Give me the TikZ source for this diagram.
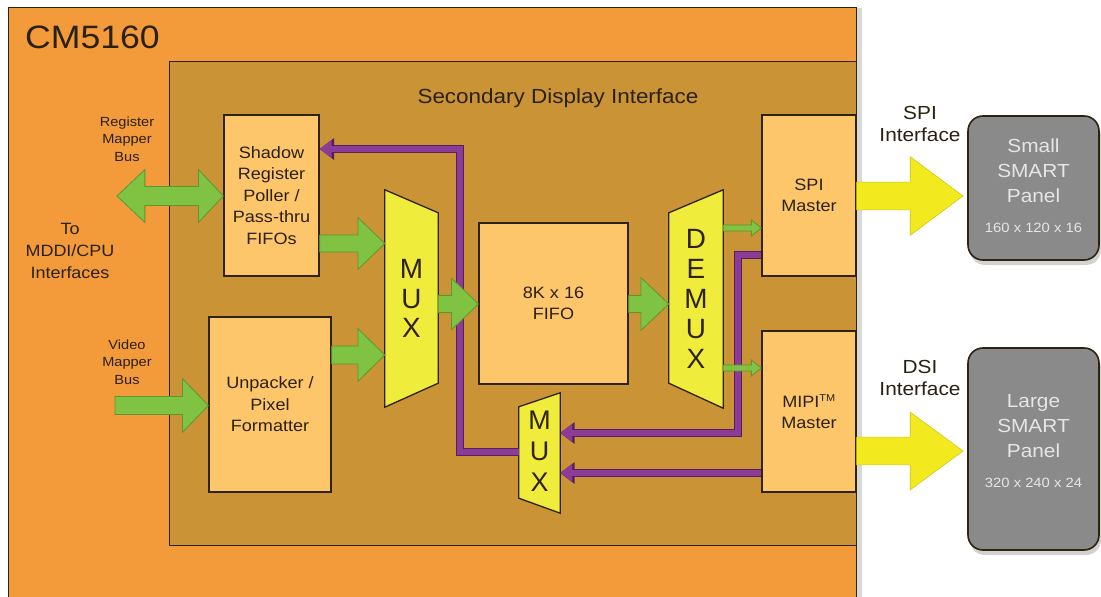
\documentclass[tikz,border=0pt]{standalone}
\usepackage{fontspec}
\setmainfont[FakeStretch=1.1]{Liberation Sans}
\newfontfamily\plainsans{Liberation Sans}
\usetikzlibrary{arrows.meta,calc,shadows}
\definecolor{orangeC}{HTML}{F39A3B}
\definecolor{innerC}{HTML}{C99336}
\definecolor{boxC}{HTML}{FEC66B}
\definecolor{edgeC}{HTML}{2E2210}
\definecolor{txtC}{HTML}{2B2112}
\definecolor{muxC}{HTML}{F0EC3C}
\definecolor{greenC}{HTML}{80C343}
\definecolor{greenD}{HTML}{5E962F}
\definecolor{purC}{HTML}{8C3B96}
\definecolor{purD}{HTML}{55205E}
\definecolor{yelC}{HTML}{F2EA1E}
\definecolor{yelD}{HTML}{D2C81A}
\definecolor{panelC}{HTML}{8A8A8A}
\definecolor{panelT}{HTML}{E6E6E6}
\newcommand{\blockarr}[6]{\draw[#1] let \p1=(#2), \p2=(#3) in
  (\x1,{\y1+#4}) -- ({\x2-#6},{\y1+#4}) -- ({\x2-#6},{\y1+#5}) -- (\x2,\y1)
  -- ({\x2-#6},{\y1-#5}) -- ({\x2-#6},{\y1-#4}) -- (\x1,{\y1-#4}) -- cycle;}
\begin{document}
\begin{tikzpicture}[x=1bp,y=-1bp,
  box/.style={draw=edgeC, line width=1.3bp, fill=boxC, inner sep=0pt, text=txtC,
    align=center, font=\fontsize{16.5}{21.5}\selectfont},
  muxshape/.style={draw=edgeC, line width=1.3bp, fill=muxC, line join=miter},
  muxtxt/.style={text=edgeC, align=center, inner sep=0pt, font=\plainsans\fontsize{28}{30}\selectfont},
  lbl/.style={text=txtC, align=center, inner sep=0pt},
  garr/.style={fill=greenC, draw=greenD, line width=0.8bp},
  yarr/.style={fill=yelC, draw=yelD, line width=0.6bp},
  panel/.style={draw=edgeC, line width=1.6bp, fill=panelC, rounded corners=15bp,
    inner sep=0pt, drop shadow={shadow xshift=2bp, shadow yshift=-5bp, opacity=0.35}},
  pline/.style={draw=purC, line width=5.5bp, -{Triangle[length=12bp,width=17bp]},
    preaction={draw=purD, line width=8bp, -{Triangle[length=14.5bp,width=21bp]}}}
]
\useasboundingbox (0,0) rectangle (1101,597);
\fill[white] (0,0) rectangle (1101,597);

% chip and inner block
\node (chip) [draw=edgeC, line width=1.3bp, fill=orangeC, minimum width=848bp, minimum height=600bp,
  anchor=north west, inner sep=0pt,
  drop shadow={shadow xshift=5bp, shadow yshift=0bp, opacity=0.3}] at (8,7) {};
\node (title) [anchor=west, text=txtC, inner sep=0pt, font=\fontsize{32.5}{38}\selectfont] at (25,37) {CM5160};
\node (sdi) [draw=edgeC, line width=1.3bp, fill=innerC, minimum width=687bp, minimum height=484bp,
  anchor=north west, inner sep=0pt] at (169,61) {};
\node (sdilbl) [lbl, font=\fontsize{20.5}{24}\selectfont] at (558,98) {Secondary Display Interface};

% boxes
\node (shadow) [box, minimum width=95bp, minimum height=161bp] at (271.5,195.5)
  {Shadow\\Register\\Poller /\\Pass-thru\\FIFOs};
\node (unpack) [box, minimum width=122bp, minimum height=175bp] at (270,404.5)
  {Unpacker /\\Pixel\\Formatter};
\node (fifo) [box, minimum width=149bp, minimum height=161bp] at (553.5,303.5)
  {8K x 16\\FIFO};
\node (spi) [box, minimum width=94bp, minimum height=161bp] at (809,195.5)
  {SPI\\Master};
\node (mipi) [box, minimum width=94bp, minimum height=161bp] at (809,411.5)
  {MIPI\textsuperscript{\fontsize{10}{10}\selectfont TM}\\Master};

% multiplexers
\path node (mux1) [minimum width=53bp, minimum height=217bp, inner sep=0pt] at (411.5,298.5) {};
\draw[muxshape] (mux1.north west) -- ($(mux1.north east)+(0,23)$) -- ($(mux1.south east)+(0,-24)$)
  -- (mux1.south west) -- cycle;
\node (mux1t) [muxtxt] at (mux1) {M\\U\\X};

\path node (demux) [minimum width=54bp, minimum height=218bp, inner sep=0pt] at (696,299) {};
\draw[muxshape] ($(demux.north west)+(0,23)$) -- (demux.north east) -- (demux.south east)
  -- ($(demux.south west)+(0,-25)$) -- cycle;
\node (demuxt) [muxtxt] at (demux) {D\\E\\M\\U\\X};

\path node (mux2) [minimum width=41bp, minimum height=120bp, inner sep=0pt] at (539.5,453) {};
\draw[muxshape] ($(mux2.north west)+(0,14)$) -- (mux2.north east) -- (mux2.south east)
  -- ($(mux2.south west)+(0,-15)$) -- cycle;
\node (mux2t) [muxtxt, font=\plainsans\fontsize{27}{31}\selectfont] at (539.5,451) {M\\U\\X};

% purple read-back paths
\draw[pline] (mux2.west |- 0,452) -- (460,452) -- (460,149) -- (shadow.east |- 0,149);
\draw[pline] (spi.west |- 0,255) -- (738,255) -- (738,433) -- (mux2.east |- 0,433);
\draw[pline] (mipi.west |- 0,473) -- (mux2.east |- 0,473);

% green data paths
\coordinate (regtip) at (117,196);
\draw[garr] let \p1=(regtip), \p2=(shadow.west |- 0,196) in
  (\x1,\y1) -- ({\x1+28},{\y1+26.5}) -- ({\x1+28},{\y1+9.5}) -- ({\x2-25},{\y1+9.5})
  -- ({\x2-25},{\y1+26.5}) -- (\x2,\y1) -- ({\x2-25},{\y1-26.5}) -- ({\x2-25},{\y1-9.5})
  -- ({\x1+28},{\y1-9.5}) -- ({\x1+28},{\y1-26.5}) -- cycle;
\coordinate (vidtail) at (115,405.5);
\blockarr{garr}{vidtail}{unpack.west |- 0,405.5}{9}{27}{26}
\blockarr{garr}{shadow.east |- 0,243.5}{mux1.west |- 0,243.5}{8.5}{26}{27}
\blockarr{garr}{unpack.east |- 0,355}{mux1.west |- 0,355}{9}{26.5}{27}
\blockarr{garr}{mux1.east |- 0,304}{fifo.west |- 0,304}{8.5}{26}{27}
\blockarr{garr}{fifo.east |- 0,304}{demux.west |- 0,304}{8.5}{26.5}{28}
\blockarr{garr}{demux.east |- 0,228}{spi.west |- 0,228}{3}{8}{10}
\blockarr{garr}{demux.east |- 0,368}{mipi.west |- 0,368}{3}{8}{10}

% panels
\node (small) [panel, minimum width=131bp, minimum height=144bp] at (1033.5,188) {};
\node (large) [panel, minimum width=131bp, minimum height=202bp] at (1033.5,449) {};
\node (smalltxt) [lbl, text=panelT, font=\fontsize{19}{25}\selectfont] at (1033.5,186)
  {Small\\SMART\\Panel\\[5bp]{\fontsize{13.5}{15}\selectfont 160 x 120 x 16}};
\node (largetxt) [lbl, text=panelT, font=\fontsize{19}{25}\selectfont] at (1033.5,441)
  {Large\\SMART\\Panel\\[5bp]{\fontsize{13.5}{15}\selectfont 320 x 240 x 24}};

% yellow interface arrows
\coordinate (spitip) at (963,196);
\coordinate (dsitip) at (963,451);
\blockarr{yarr}{spi.east |- 0,196}{spitip}{14}{39.5}{53}
\blockarr{yarr}{mipi.east |- 0,451}{dsitip}{14}{39}{53}

% labels
\node (reglbl) [lbl, font=\fontsize{13.3}{17.5}\selectfont] at (127,139) {Register\\Mapper\\Bus};
\node (vidlbl) [lbl, font=\fontsize{13.3}{17.5}\selectfont] at (127,362) {Video\\Mapper\\Bus};
\node (mddilbl) [lbl, font=\fontsize{16.4}{22}\selectfont] at (70,251) {To\\MDDI/CPU\\Interfaces};
\node (spilbl) [lbl, font=\fontsize{19}{23}\selectfont] at (920,124) {SPI\\Interface};
\node (dsilbl) [lbl, font=\fontsize{19}{23}\selectfont] at (920,378) {DSI\\Interface};
\end{tikzpicture}
\end{document}
